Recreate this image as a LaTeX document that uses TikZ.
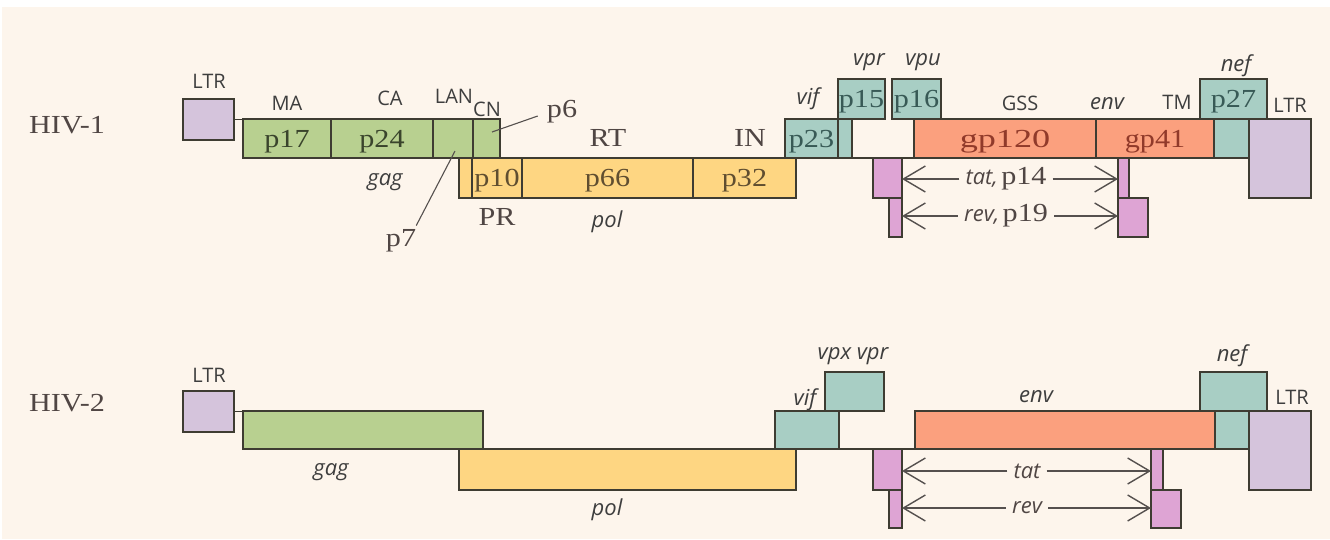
\documentclass[tikz,border=0pt]{standalone}
\usepackage{fontspec}
\usepackage{graphicx}
\newfontfamily\labsans{Open Sans}
\newfontfamily\serfont[FakeStretch=1.16]{Liberation Serif}
\usetikzlibrary{arrows.meta}

\definecolor{bgcream}{RGB}{253,245,236}
\definecolor{ltrcol}{RGB}{213,196,220}
\definecolor{gagcol}{RGB}{184,208,144}
\definecolor{polcol}{RGB}{254,214,130}
\definecolor{acccol}{RGB}{168,206,196}
\definecolor{envcol}{RGB}{251,160,126}
\definecolor{tatcol}{RGB}{222,164,212}
\definecolor{edgecol}{RGB}{62,60,50}
\definecolor{txtgray}{RGB}{62,62,62}
\definecolor{sergray}{RGB}{80,70,68}
\definecolor{gagtxt}{RGB}{58,68,44}
\definecolor{poltxt}{RGB}{96,78,48}
\definecolor{acctxt}{RGB}{56,90,86}
\definecolor{envtxt}{RGB}{145,58,42}
\definecolor{arrcol}{RGB}{85,80,78}

% gene block: name, fill style, left, top, right, bottom (pixel units, y downward)
\newcommand\gbox[6]{%
  \node[genebox,#2,anchor=north west,
        minimum width={(#5-#3)*1pt},minimum height={(#6-#4)*1pt}] (#1) at (#3,#4) {};}
\newcommand\sansit{\labsans\itshape\fontsize{22}{24}\selectfont}
\newcommand\serifbig{\serfont\fontsize{26}{28}\selectfont}

\begin{document}
\begin{tikzpicture}[x=1pt,y=-1pt,
  genebox/.style={draw=edgecol,line width=1.3pt,inner sep=0pt,outer sep=0pt},
  ltrfill/.style={fill=ltrcol},
  gagfill/.style={fill=gagcol},
  polfill/.style={fill=polcol},
  accfill/.style={fill=acccol},
  envfill/.style={fill=envcol},
  tatfill/.style={fill=tatcol},
  sanslab/.style={font=\labsans\fontsize{20}{22}\selectfont,text=txtgray,inner sep=1pt},
  itlab/.style={font=\sansit,text=txtgray,inner sep=1pt},
  serlab/.style={font=\serifbig,text=sergray,inner sep=1pt},
  inlab/.style={font=\serifbig,inner sep=0pt,yshift=-3pt},
  leader/.style={draw=arrcol,line width=1.1pt},
  biarrow/.style={draw=arrcol,line width=1.4pt,-{Straight Barb[length=22pt,width=26pt]}},
  arrlab/.style={text=sergray,inner sep=6pt},
]
% page and panel
\fill[white] (0,0) rectangle (1330,539);
\fill[bgcream] (2,7) rectangle (1330,539);
\useasboundingbox (0,0) rectangle (1330,539);

% ---------------- HIV-1 ----------------
\node[serlab] (hivA) at (67,125) {HIV-1};

\gbox{ltrA}{ltrfill}{183}{99}{234}{140}
\gbox{p17}{gagfill}{243}{119}{331}{158}
\gbox{p24}{gagfill}{331}{119}{433}{158}
\gbox{p7}{gagfill}{433}{119}{473}{158}
\gbox{p6}{gagfill}{473}{119}{500}{158}
\draw[genebox] (ltrA.east) -- (ltrA.east -| p17.west);

\gbox{polA}{polfill}{459}{158}{472}{198}
\gbox{p10}{polfill}{472}{158}{522}{198}
\gbox{p66}{polfill}{522}{158}{693}{198}
\gbox{p32}{polfill}{693}{158}{796}{198}

\gbox{p23}{accfill}{785}{119}{838}{158}
\gbox{vprB}{accfill}{838}{119}{852}{158}
\gbox{p15}{accfill}{838}{79}{885}{119}
\gbox{p16}{accfill}{892}{79}{941}{119}

\gbox{gp120}{envfill}{914}{119}{1096}{158}
\gbox{gp41}{envfill}{1096}{119}{1214}{158}
\draw[genebox] (vprB.south east) -- (gp120.south west);

\gbox{nefA}{accfill}{1214}{119}{1249}{158}
\gbox{ltrB}{ltrfill}{1249}{119}{1311}{198}
\gbox{p27}{accfill}{1200}{79}{1267}{119}

\gbox{tatL}{tatfill}{873}{158}{902}{198}
\gbox{revL}{tatfill}{889}{198}{902}{237}
\gbox{tatR}{tatfill}{1118}{158}{1129}{198}
\gbox{revR}{tatfill}{1118}{198}{1148}{237}

% protein names inside the blocks
\node[inlab,text=gagtxt] at (p17) {p17};
\node[inlab,text=gagtxt] at (p24) {p24};
\node[inlab,text=poltxt] at (p10) {p10};
\node[inlab,text=poltxt] at (p66) {p66};
\node[inlab,text=poltxt] at (p32) {p32};
\node[inlab,text=acctxt] at (p23) {p23};
\node[inlab,text=acctxt] at (p15) {p15};
\node[inlab,text=acctxt] at (p16) {p16};
\node[inlab,text=acctxt] at (p27) {p27};
\node[inlab,text=envtxt] at (gp120) {\scalebox{1.2}[1]{gp120}};
\node[inlab,text=envtxt] at (gp41) {gp41};

% labels around the blocks
\node[sanslab] at (209,81) {LTR};
\node[sanslab] at (287,103) {MA};
\node[sanslab] at (390,98) {CA};
\node[sanslab] at (454,96) {LAN};
\node[sanslab] at (487,109) {CN};
\node[itlab] at (385,182) {gag};
\node[serlab] at (497,217) {PR};
\node[serlab] at (608,138) {RT};
\node[serlab] at (750,138) {IN};
\node[itlab] at (607,222) {pol};
\node[itlab] at (808,99) {vif};
\node[itlab] at (869,62) {vpr};
\node[itlab] at (923,62) {vpu};
\node[sanslab] at (1020,103) {GSS};
\node[itlab] at (1107,104) {env};
\node[sanslab] at (1177,102) {TM};
\node[sanslab] at (1290,105) {LTR};
\node[itlab] at (1236,66) {nef};

% leader lines for p7 and p6
\node[serlab] (p7lab) at (401,241) {p7};
\coordinate (p7end) at (455,151);
\draw[leader] ([xshift=-1pt,yshift=3pt]p7lab.north east) -- (p7end);
\node[serlab] (p6lab) at (562,112) {p6};
\coordinate (p6end) at (492,132);
\draw[leader] ([xshift=-8pt,yshift=-4pt]p6lab.west) -- (p6end);

% tat and rev spans
\node[arrlab] (tatA) at (1006,179) {{\sansit tat,} {\serifbig p14}};
\draw[biarrow] (tatA.west) -- (tatA.west -| tatL.east);
\draw[biarrow] (tatA.east) -- (tatA.east -| tatR.west);
\node[arrlab] (revA) at (1006,216) {{\sansit rev,} {\serifbig p19}};
\draw[biarrow] (revA.west) -- (revA.west -| revL.east);
\draw[biarrow] (revA.east) -- (revA.east -| revR.west);

% ---------------- HIV-2 ----------------
\node[serlab] (hivB) at (67,403) {HIV-2};

\gbox{ltrC}{ltrfill}{183}{391}{234}{432}
\gbox{gagB}{gagfill}{243}{411}{483}{449}
\draw[genebox] (ltrC.east) -- (ltrC.east -| gagB.west);
\gbox{polB}{polfill}{459}{449}{796}{490}

\gbox{vifB}{accfill}{775}{411}{839}{449}
\gbox{vpxB}{accfill}{825}{372}{884}{411}
\gbox{envB}{envfill}{915}{411}{1215}{449}
\draw[genebox] (vifB.south east) -- (envB.south west);
\gbox{nefB}{accfill}{1215}{411}{1249}{449}
\gbox{ltrD}{ltrfill}{1249}{411}{1311}{490}
\gbox{nefC}{accfill}{1200}{372}{1267}{411}

\gbox{tatL2}{tatfill}{873}{449}{902}{490}
\gbox{revL2}{tatfill}{889}{490}{902}{528}
\gbox{tatR2}{tatfill}{1151}{449}{1163}{490}
\gbox{revR2}{tatfill}{1151}{490}{1181}{528}

\node[sanslab] at (209,375) {LTR};
\node[itlab] at (331,472) {gag};
\node[itlab] at (607,510) {pol};
\node[itlab] at (805,400) {vif};
\node[itlab] at (853,356) {vpx vpr};
\node[itlab] at (1036,397) {env};
\node[itlab] at (1232,356) {nef};
\node[sanslab] at (1292,397) {LTR};

\node[arrlab] (tatB) at (1027,471) {\sansit tat};
\draw[biarrow] (tatB.west) -- (tatB.west -| tatL2.east);
\draw[biarrow] (tatB.east) -- (tatB.east -| tatR2.west);
\node[arrlab] (revB) at (1027,508) {\sansit rev};
\draw[biarrow] (revB.west) -- (revB.west -| revL2.east);
\draw[biarrow] (revB.east) -- (revB.east -| revR2.west);
\end{tikzpicture}
\end{document}
